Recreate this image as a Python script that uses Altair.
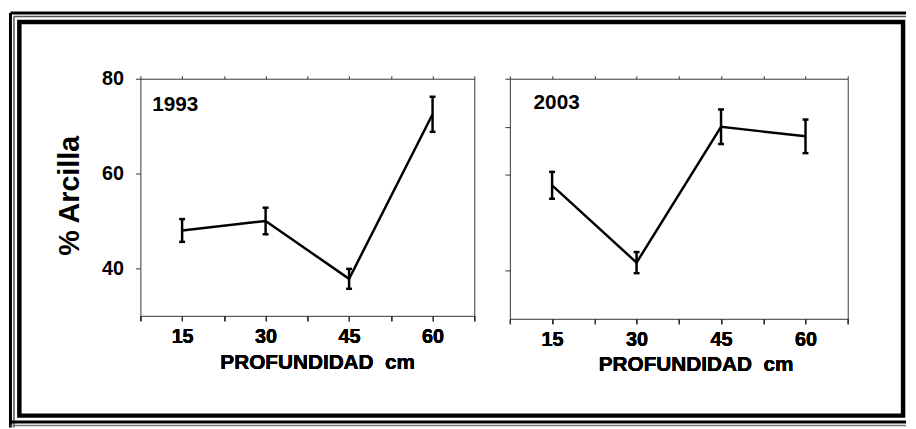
import altair as alt
import pandas as pd

# ---- data ----
depth = [15, 30, 45, 60]
mean_1993 = [48.0, 50.0, 37.8, 72.5]
err_1993 = [2.4, 2.8, 2.1, 3.7]
mean_2003 = [57.8, 41.7, 70.0, 68.0]
err_2003 = [2.8, 2.2, 3.6, 3.5]
years = ["1993", "2003"]
x_ticks_all = [7.5, 15, 22.5, 30, 37.5, 45, 52.5, 60, 67.5]
y_ticks_left = [40, 60, 80]
y_ticks_right = [40, 60, 70, 80]
x_title = "PROFUNDIDAD\u00a0 cm"
y_title = "% Arcilla"

FONT = "Liberation Sans"
INK = "black"


def panel(means, errs, year, w, h, left, title_x, title_y, year_x, year_y):
    df = pd.DataFrame({
        "depth": depth,
        "mean": means,
        "lo": [m - e for m, e in zip(means, errs)],
        "hi": [m + e for m, e in zip(means, errs)],
    })
    xs = alt.Scale(domain=[7.5, 67.5], nice=False, zero=False)
    ys = alt.Scale(domain=[30, 80], nice=False, zero=False)
    xaxis = alt.Axis(orient="bottom", values=x_ticks_all,
                     labelExpr="datum.value % 15 === 0 ? datum.label : ''",
                     tickSize=5, labelPadding=6, domain=False, grid=False,
                     title=x_title, titleX=title_x, titleY=title_y,
                     titleBaseline="alphabetic", titleAlign="center")
    if left:
        yaxis = alt.Axis(orient="left", values=y_ticks_left, tickSize=5,
                         labelPadding=12, domain=False, grid=False,
                         title=y_title, titleX=-63, titleY=h / 2 - 2,
                         titleBaseline="alphabetic", titleAlign="center",
                         titleFontSize=29)
    else:
        yaxis = alt.Axis(orient="left", values=y_ticks_right, tickSize=5,
                         labels=False, domain=False, grid=False, title="")
    X = alt.X("depth:Q", scale=xs, axis=xaxis)
    Y = alt.Y("mean:Q", scale=ys, axis=yaxis)
    base = alt.Chart(df)

    line = base.mark_line(color=INK, strokeWidth=2.5).encode(x=X, y=Y)
    bars = base.mark_rule(color=INK, strokeWidth=2.5).encode(
        x=X, y=alt.Y("lo:Q", scale=ys, axis=yaxis), y2="hi:Q")
    cap_lo = base.mark_tick(orient="horizontal", size=6, thickness=2.5,
                            color=INK, opacity=1).encode(
        x=X, y=alt.Y("lo:Q", scale=ys, axis=yaxis))
    cap_hi = base.mark_tick(orient="horizontal", size=6, thickness=2.5,
                            color=INK, opacity=1).encode(
        x=X, y=alt.Y("hi:Q", scale=ys, axis=yaxis))
    top = base.mark_point(opacity=0).encode(
        x=alt.X("depth:Q", scale=xs,
                axis=alt.Axis(orient="top", values=x_ticks_all, labels=False,
                              tickSize=3, domain=False, grid=False, title="")),
        y=Y)
    label = alt.Chart(pd.DataFrame({"k": [0]})).mark_text(
        align="left", baseline="alphabetic", font=FONT, fontSize=21,
        fontWeight="bold", color=INK).encode(
        x=alt.value(year_x), y=alt.value(year_y), text=alt.value(year))

    layers = []
    if left:
        # decorative page frame, relative to this panel's plot origin
        one = alt.Chart(pd.DataFrame({"k": [0]}))
        layers += [
            # invisible box fixing the overall bounds of the page
            one.mark_rect(color="white", opacity=0).encode(
                x=alt.value(-133), x2=alt.value(775),
                y=alt.value(-68), y2=alt.value(353)),
            one.mark_rule(color=INK, strokeWidth=3).encode(
                x=alt.value(-131.5), y=alt.value(-66.5), y2=alt.value(353)),
            one.mark_rule(color=INK, strokeWidth=3).encode(
                x=alt.value(-131.5), x2=alt.value(775), y=alt.value(-66.5)),
            one.mark_rule(color="#555", strokeWidth=1.5).encode(
                x=alt.value(-128), y=alt.value(-63), y2=alt.value(353)),
            one.mark_rule(color="#555", strokeWidth=1.5).encode(
                x=alt.value(-128), x2=alt.value(775), y=alt.value(-63)),
            one.mark_rect(filled=False, stroke=INK, strokeWidth=4.5).encode(
                x=alt.value(-122.5), x2=alt.value(772),
                y=alt.value(-57.5), y2=alt.value(341)),
            one.mark_rule(color=INK, strokeWidth=3).encode(
                x=alt.value(-131.5), x2=alt.value(775), y=alt.value(347.5)),
            one.mark_rule(color="#777", strokeWidth=1.5).encode(
                x=alt.value(-131.5), x2=alt.value(775), y=alt.value(351)),
        ]
    layers += [line, bars, cap_lo, cap_hi, top, label]
    return alt.layer(*layers).resolve_axis(x="independent").properties(
        width=w, height=h)


left = panel(mean_1993, err_1993, years[0], 338, 240, True, 179, 53, 12, 33)
right = panel(mean_2003, err_2003, years[1], 342, 243, False, 188, 52, 24, 31)

chart = alt.hconcat(left, right, spacing=36, bounds="flush").properties(
    padding=0
).configure(background="white").configure_view(
    stroke="#333", strokeWidth=1
).configure_axis(
    labelFont=FONT, labelFontSize=20, labelFontWeight="bold", labelColor=INK,
    titleFont=FONT, titleFontSize=21, titleFontWeight="bold", titleColor=INK,
    tickColor="#333", tickWidth=1
)

chart.save("out.html", embed_options={"renderer": "svg", "actions": False})
